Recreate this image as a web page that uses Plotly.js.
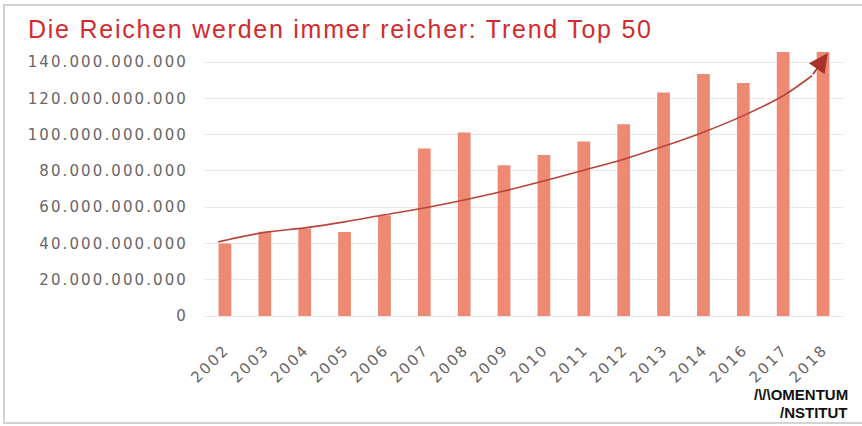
<!DOCTYPE html>
<html>
<head>
<meta charset="utf-8">
<script src="https://cdn.plot.ly/plotly-3.0.1.min.js"></script>
<style>
  html, body { margin: 0; padding: 0; background: #ffffff; }
  #wrap { position: relative; width: 862px; height: 426px; }
  #chart { width: 862px; height: 426px; }
  #frame { position: absolute; left: 3px; top: 4px; width: 870px; height: 420px;
           border: 2px solid #d2d2d2; box-sizing: border-box; pointer-events: none; }
  .gtitle { letter-spacing: 1.75px; }
  .ytick text, .xtick text { letter-spacing: 2.1px; }
</style>
</head>
<body>
<div id="wrap">
  <div id="chart"></div>
  <div id="frame"></div>
</div>
<script>
// ---- data ----
const years = ["2002","2003","2004","2005","2006","2007","2008","2009","2010","2011","2012","2013","2014","2016","2017","2018"];
const wealth = [40.0e9, 46.5e9, 48.3e9, 46.3e9, 55.5e9, 92.4e9, 101.2e9, 83.1e9, 88.8e9, 96.2e9, 105.8e9, 123.3e9, 133.4e9, 128.5e9, 150.0e9, 147.0e9];
// trend curve (positions in category index units, values in EUR)
const trendPos = [-0.17, 0, 1, 2, 3, 4, 5, 6, 7, 8, 9, 10, 11, 12, 13, 14, 14.72];
const trendVal = [40.8e9, 41.7e9, 46.1e9, 48.6e9, 51.9e9, 55.8e9, 59.6e9, 64.0e9, 68.9e9, 74.5e9, 80.4e9, 86.5e9, 93.6e9, 101.4e9, 110.5e9, 121.5e9, 132.5e9];
const arrowTip = {pos: 15.12, val: 145.0e9};
const yTicks = [0, 20e9, 40e9, 60e9, 80e9, 100e9, 120e9, 140e9];
const titleText = "Die Reichen werden immer reicher: Trend Top 50";
const logoLines = ["/\\/\\OMENTUM", "/NSTITUT"];

const idx = years.map((_, i) => i);
const tickFont = {family: "DejaVu Sans, sans-serif", size: 15, color: "#6b6565"};

const traces = [
  {
    type: "bar", x: idx, y: wealth, width: 0.32,
    marker: {color: "#ee8a73"}, hoverinfo: "y"
  },
  {
    type: "scatter", mode: "lines", x: trendPos, y: trendVal,
    line: {color: "#b8443a", width: 1.6, shape: "spline", smoothing: 1},
    hoverinfo: "skip"
  }
];

const layout = {
  width: 862, height: 426,
  margin: {l: 205, r: 19, t: 52, b: 110, pad: 0},
  paper_bgcolor: "#ffffff", plot_bgcolor: "#ffffff",
  showlegend: false,
  separators: ",.",
  title: {
    text: titleText,
    font: {family: "Liberation Sans, Arial, sans-serif", size: 25, color: "#d22b2e"},
    xref: "container", x: 28 / 862, xanchor: "left",
    yref: "container", y: 1 - 29 / 426, yanchor: "middle"
  },
  xaxis: {
    type: "linear", range: [-0.5, 15.5],
    tickmode: "array", tickvals: idx, ticktext: years,
    tickangle: -45, tickfont: tickFont, ticklabelstandoff: 21,
    showgrid: false, zeroline: false, showline: false, ticks: "",
    fixedrange: true
  },
  yaxis: {
    range: [0, 145.6e9],
    tickmode: "array", tickvals: yTicks, tickformat: ",d",
    tickfont: tickFont, ticks: "", ticklabelstandoff: 16,
    showgrid: true, gridcolor: "#e8e8e8", gridwidth: 1,
    zeroline: true, zerolinecolor: "#e8e8e8", zerolinewidth: 1,
    showline: false, fixedrange: true
  },
  annotations: [
    {
      x: arrowTip.pos, y: arrowTip.val, xref: "x", yref: "y",
      ax: trendPos[trendPos.length - 1], ay: trendVal[trendVal.length - 1],
      axref: "x", ayref: "y",
      text: "", showarrow: true, arrowhead: 2, arrowsize: 2.4, arrowwidth: 1.6,
      arrowcolor: "#a8332a", standoff: 0, startstandoff: 0
    },
    {
      xref: "paper", yref: "paper", x: (849 - 205) / 638, y: (316.5 - 395) / 264.5,
      xanchor: "right", yanchor: "middle", showarrow: false, borderpad: 0,
      text: "<b>" + logoLines[0] + "</b>",
      font: {family: "Liberation Sans, Arial, sans-serif", size: 15, color: "#111111"}
    },
    {
      xref: "paper", yref: "paper", x: (849 - 205) / 638, y: (316.5 - 413) / 264.5,
      xanchor: "right", yanchor: "middle", showarrow: false, borderpad: 0,
      text: "<b>" + logoLines[1] + "</b>",
      font: {family: "Liberation Sans, Arial, sans-serif", size: 15, color: "#111111"}
    }
  ]
};

Plotly.newPlot("chart", traces, layout, {displayModeBar: false, staticPlot: true});
</script>
</body>
</html>
